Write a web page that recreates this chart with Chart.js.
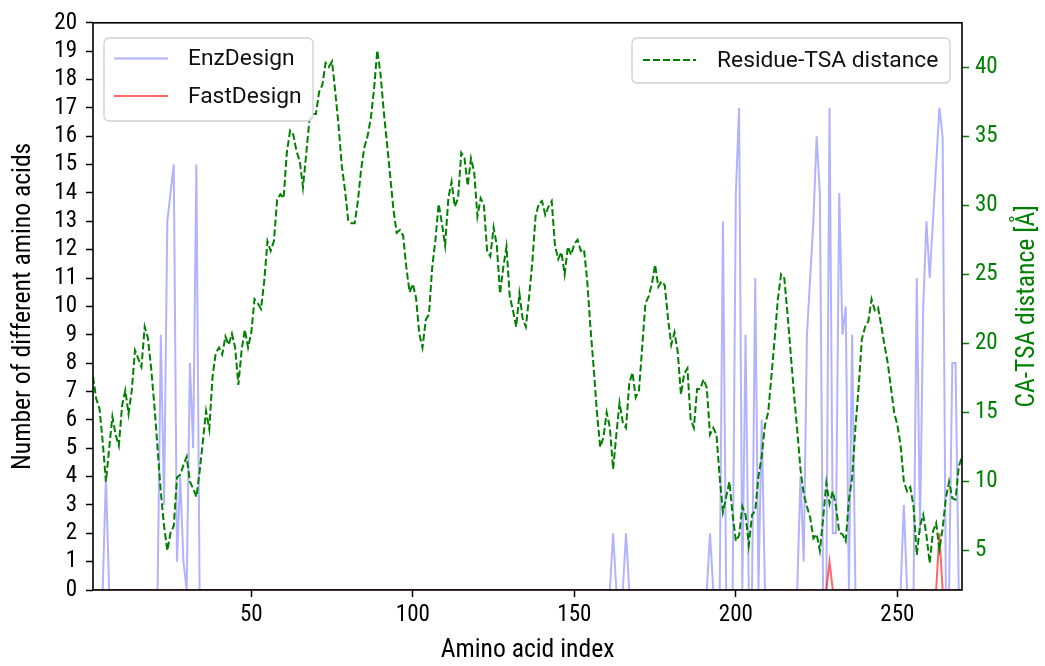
<!DOCTYPE html>
<html>
<head>
<meta charset="utf-8">
<script src="https://cdn.jsdelivr.net/npm/chart.js@4"></script>
<style>
  html, body { margin: 0; padding: 0; background: #fff; }
  #wrap { width: 1045px; height: 666px; }
</style>
</head>
<body>
<div id="wrap"><canvas id="chart1" width="1045" height="666"></canvas></div>
<script>
// residue numbers on the x axis
const residues = Array.from({ length: 270 }, (_, k) => k + 1)

// number of different amino acids per residue (EnzDesign)
const enzDesign = [
  0, 0, 0, 0, 4, 0, 0, 0, 0, 0,
  0, 0, 0, 0, 0, 0, 0, 0, 0, 0,
  0, 9, 3, 13, 14, 15, 1, 4, 1, 0,
  8, 5, 15, 0, 0, 0, 0, 0, 0, 0,
  0, 0, 0, 0, 0, 0, 0, 0, 0, 0,
  0, 0, 0, 0, 0, 0, 0, 0, 0, 0,
  0, 0, 0, 0, 0, 0, 0, 0, 0, 0,
  0, 0, 0, 0, 0, 0, 0, 0, 0, 0,
  0, 0, 0, 0, 0, 0, 0, 0, 0, 0,
  0, 0, 0, 0, 0, 0, 0, 0, 0, 0,
  0, 0, 0, 0, 0, 0, 0, 0, 0, 0,
  0, 0, 0, 0, 0, 0, 0, 0, 0, 0,
  0, 0, 0, 0, 0, 0, 0, 0, 0, 0,
  0, 0, 0, 0, 0, 0, 0, 0, 0, 0,
  0, 0, 0, 0, 0, 0, 0, 0, 0, 0,
  0, 0, 0, 0, 0, 0, 0, 0, 0, 0,
  0, 2, 0, 0, 0, 2, 0, 0, 0, 0,
  0, 0, 0, 0, 0, 0, 0, 0, 0, 0,
  0, 0, 0, 0, 0, 0, 0, 0, 0, 0,
  0, 2, 0, 0, 0, 13, 0, 0, 0, 14,
  17, 0, 9, 0, 0, 11, 0, 6, 0, 0,
  0, 0, 0, 0, 0, 0, 0, 0, 0, 4,
  1, 9, 11, 13, 16, 14, 0, 0, 17, 2,
  2, 14, 9, 10, 0, 9, 0, 0, 0, 0,
  0, 0, 0, 0, 0, 0, 0, 0, 0, 0,
  0, 3, 0, 0, 0, 11, 2, 10, 13, 11,
  13, 15, 17, 16, 0, 0, 8, 8, 0, 0
]

// number of different amino acids per residue (FastDesign)
const fastDesign = [
  0, 0, 0, 0, 0, 0, 0, 0, 0, 0,
  0, 0, 0, 0, 0, 0, 0, 0, 0, 0,
  0, 0, 0, 0, 0, 0, 0, 0, 0, 0,
  0, 0, 0, 0, 0, 0, 0, 0, 0, 0,
  0, 0, 0, 0, 0, 0, 0, 0, 0, 0,
  0, 0, 0, 0, 0, 0, 0, 0, 0, 0,
  0, 0, 0, 0, 0, 0, 0, 0, 0, 0,
  0, 0, 0, 0, 0, 0, 0, 0, 0, 0,
  0, 0, 0, 0, 0, 0, 0, 0, 0, 0,
  0, 0, 0, 0, 0, 0, 0, 0, 0, 0,
  0, 0, 0, 0, 0, 0, 0, 0, 0, 0,
  0, 0, 0, 0, 0, 0, 0, 0, 0, 0,
  0, 0, 0, 0, 0, 0, 0, 0, 0, 0,
  0, 0, 0, 0, 0, 0, 0, 0, 0, 0,
  0, 0, 0, 0, 0, 0, 0, 0, 0, 0,
  0, 0, 0, 0, 0, 0, 0, 0, 0, 0,
  0, 0, 0, 0, 0, 0, 0, 0, 0, 0,
  0, 0, 0, 0, 0, 0, 0, 0, 0, 0,
  0, 0, 0, 0, 0, 0, 0, 0, 0, 0,
  0, 0, 0, 0, 0, 0, 0, 0, 0, 0,
  0, 0, 0, 0, 0, 0, 0, 0, 0, 0,
  0, 0, 0, 0, 0, 0, 0, 0, 0, 0,
  0, 0, 0, 0, 0, 0, 0, 0, 1, 0,
  0, 0, 0, 0, 0, 0, 0, 0, 0, 0,
  0, 0, 0, 0, 0, 0, 0, 0, 0, 0,
  0, 0, 0, 0, 0, 0, 0, 0, 0, 0,
  0, 0, 2, 0, 0, 0, 0, 0, 0, 0
]

// CA - transition state analogue distance in Angstrom
const tsaDistance = [
  17.6, 16.0, 15.3, 12.9, 10.0, 12.4, 14.7, 13.4, 12.6, 15.5,
  16.6, 14.9, 16.6, 19.5, 18.9, 18.3, 21.2, 20.4, 18.2, 15.5,
  12.4, 9.2, 6.8, 5.0, 6.3, 6.8, 10.3, 10.5, 11.2, 11.8,
  10.0, 9.5, 8.9, 10.7, 12.9, 15.1, 13.8, 17.6, 19.3, 19.7,
  19.2, 20.5, 19.9, 20.7, 19.7, 17.0, 19.5, 21.0, 19.7, 20.8,
  23.2, 22.9, 22.5, 24.5, 27.4, 26.7, 27.4, 30.4, 30.8, 30.5,
  33.8, 35.4, 35.1, 33.9, 33.2, 31.3, 33.7, 36.2, 36.6, 36.6,
  38.2, 38.7, 40.3, 40.0, 40.4, 38.2, 35.8, 32.9, 31.1, 28.9,
  28.7, 28.7, 30.3, 32.6, 34.2, 35.0, 36.3, 38.4, 41.2, 39.5,
  36.8, 34.5, 32.1, 29.7, 28.0, 28.2, 27.8, 25.5, 23.7, 24.3,
  23.3, 20.7, 19.7, 21.7, 22.1, 25.5, 27.5, 30.1, 28.7, 27.1,
  30.5, 31.7, 29.9, 30.5, 33.8, 33.4, 31.4, 33.4, 32.4, 29.2,
  30.5, 30.0, 26.7, 26.3, 28.4, 27.1, 23.6, 25.5, 27.0, 23.4,
  22.4, 21.2, 23.6, 21.8, 21.2, 23.4, 25.9, 29.2, 30.1, 30.3,
  29.3, 29.9, 30.3, 27.1, 26.1, 26.6, 25.0, 27.0, 26.4, 27.2,
  27.5, 26.7, 26.8, 24.5, 21.1, 18.2, 15.0, 12.5, 13.2, 15.0,
  13.9, 10.9, 13.4, 15.7, 14.3, 13.9, 17.1, 17.9, 16.1, 16.6,
  19.7, 22.9, 23.4, 24.3, 25.7, 24.1, 24.5, 24.2, 21.8, 19.9,
  20.8, 19.4, 16.3, 17.8, 18.2, 14.5, 13.9, 16.7, 16.7, 17.4,
  16.8, 13.4, 13.9, 13.4, 10.3, 7.8, 8.9, 10.0, 7.6, 5.7,
  6.1, 8.2, 7.6, 5.4, 7.6, 7.9, 10.4, 11.8, 14.1, 15.0,
  17.6, 20.3, 23.2, 25.0, 24.7, 22.1, 19.2, 16.3, 13.7, 10.9,
  9.1, 8.2, 7.4, 5.9, 6.2, 5.0, 7.3, 9.9, 8.4, 9.3,
  8.2, 6.3, 6.2, 5.7, 8.7, 10.3, 13.9, 16.8, 20.3, 21.2,
  21.6, 23.2, 22.4, 22.6, 21.3, 19.9, 18.6, 16.8, 15.0, 14.1,
  12.6, 10.0, 9.3, 9.6, 8.2, 4.7, 6.8, 7.6, 6.1, 4.1,
  6.4, 7.0, 5.1, 6.6, 8.8, 10.0, 8.8, 8.7, 11.1, 11.8
]

const xTicks = [50, 100, 150, 200, 250]
const leftTicks = [0, 1, 2, 3, 4, 5, 6, 7, 8, 9, 10, 11, 12, 13, 14, 15, 16, 17, 18, 19, 20]
const rightTicks = [5, 10, 15, 20, 25, 30, 35, 40]

const GREEN = '#008000'

// use the narrow Roboto cut for axes if the system has it
var probe = document.createElement('canvas').getContext('2d')
function textWidth(font, text) {
  probe.font = font
  return probe.measureText(text).width
}
const hasCondensed = textWidth('100px "Roboto Condensed", monospace', 'Amino acid index') !==
  textWidth('100px monospace', 'Amino acid index')
const AXIS_FONT = hasCondensed ? '"Roboto Condensed", Roboto' : 'Roboto'
const LEGEND_FONT = 'Roboto'

// pick the font size that gives a text the width seen in the picture
function sizeFor(family, text, width) {
  return Math.round(10 * 100 * width / textWidth('100px ' + family, text)) / 10
}
const tickSize = sizeFor(AXIS_FONT, '200', 34)
const titleSize = sizeFor(AXIS_FONT, 'Amino acid index', 174)
const legendSize = sizeFor(LEGEND_FONT, 'Residue-TSA distance', 221)

function points(ys) {
  return residues.map((r, k) => ({ x: r, y: ys[k] }))
}
function fixedTicks(list) {
  return s => { s.ticks = list.map(v => ({ value: v })) }
}

// box, legends and right axis label drawn on top of the lines
const extras = {
  id: 'extras',
  afterDatasetsDraw(chart) {
    const ctx = chart.ctx
    const a = chart.chartArea
    ctx.save()
    ctx.strokeStyle = '#000'
    ctx.lineWidth = 1.6
    ctx.strokeRect(a.left, a.top, a.right - a.left, a.bottom - a.top)

    function box(x, y, w, h) {
      ctx.beginPath()
      ctx.roundRect(x, y, w, h, 5)
      ctx.fillStyle = 'rgba(255,255,255,0.8)'
      ctx.fill()
      ctx.strokeStyle = '#d0d0d0'
      ctx.lineWidth = 1.3
      ctx.stroke()
    }
    function entry(x1, x2, y, color, dash, width, label, tx) {
      ctx.beginPath()
      ctx.setLineDash(dash)
      ctx.strokeStyle = color
      ctx.lineWidth = width
      ctx.moveTo(x1, y)
      ctx.lineTo(x2, y)
      ctx.stroke()
      ctx.setLineDash([])
      ctx.fillStyle = '#111'
      ctx.font = legendSize + 'px ' + LEGEND_FONT
      ctx.textAlign = 'left'
      ctx.textBaseline = 'middle'
      ctx.fillText(label, tx, y + 1)
    }

    box(104, 38, 209, 83)
    entry(114, 168, 58.5, 'rgba(0,0,255,0.3)', [], 2, 'EnzDesign', 188)
    entry(114, 168, 96, 'rgba(255,0,0,0.6)', [], 2, 'FastDesign', 188)

    box(632, 38, 318, 45)
    entry(643, 696, 60, GREEN, [7, 3], 2, 'Residue-TSA distance', 717)

    // right axis title reads bottom to top
    ctx.translate(1028, (a.top + a.bottom) / 2)
    ctx.rotate(-Math.PI / 2)
    ctx.fillStyle = GREEN
    ctx.font = titleSize + 'px ' + AXIS_FONT
    ctx.textAlign = 'center'
    ctx.textBaseline = 'middle'
    ctx.fillText('CA-TSA distance [\u00c5]', 0, 0)
    ctx.restore()
  }
}

var tickGrid = {
  drawOnChartArea: false,
  drawTicks: true,
  tickLength: 7,
  tickWidth: 1.5,
  tickColor: '#000'
}

var ctx = document.getElementById('chart1').getContext('2d')
var chart1 = new Chart(ctx, {
  type: 'line',
  data: {
    datasets: [{
      label: 'Residue-TSA distance',
      data: points(tsaDistance),
      yAxisID: 'y2',
      borderColor: GREEN,
      borderWidth: 2,
      borderDash: [7, 3],
      pointRadius: 0,
      tension: 0,
      order: 0
    }, {
      label: 'FastDesign',
      data: points(fastDesign),
      yAxisID: 'y',
      borderColor: 'rgba(255,0,0,0.6)',
      borderWidth: 2,
      pointRadius: 0,
      tension: 0,
      order: 1
    }, {
      label: 'EnzDesign',
      data: points(enzDesign),
      yAxisID: 'y',
      borderColor: 'rgba(0,0,255,0.3)',
      borderWidth: 2,
      pointRadius: 0,
      tension: 0,
      order: 2
    }]
  },
  options: {
    responsive: false,
    animation: false,
    devicePixelRatio: 1,
    layout: { padding: { top: 22, left: 0, right: 0, bottom: 0 } },
    plugins: {
      legend: { display: false },
      tooltip: { enabled: false }
    },
    scales: {
      x: {
        type: 'linear',
        min: 1,
        max: 270,
        afterBuildTicks: fixedTicks(xTicks),
        afterFit: s => { s.height = 76 },
        grid: tickGrid,
        border: { display: false },
        ticks: { color: '#000', font: { family: AXIS_FONT, size: tickSize }, padding: 4, maxRotation: 0, autoSkip: false },
        title: {
          display: true,
          text: 'Amino acid index',
          color: '#000',
          font: { family: AXIS_FONT, size: titleSize },
          padding: { top: 0, bottom: 0 }
        }
      },
      y: {
        position: 'left',
        min: 0,
        max: 20,
        afterBuildTicks: fixedTicks(leftTicks),
        afterFit: s => { s.width = 93 },
        grid: tickGrid,
        border: { display: false },
        ticks: { color: '#000', font: { family: AXIS_FONT, size: tickSize }, padding: 9, autoSkip: false },
        title: {
          display: true,
          text: 'Number of different amino acids',
          color: '#000',
          font: { family: AXIS_FONT, size: titleSize },
          padding: { top: 8, bottom: 0 }
        }
      },
      y2: {
        position: 'right',
        min: 2.16,
        max: 43.2,
        afterBuildTicks: fixedTicks(rightTicks),
        afterFit: s => { s.width = 83 },
        grid: Object.assign({}, tickGrid, { tickColor: GREEN }),
        border: { display: false },
        ticks: { color: GREEN, font: { family: AXIS_FONT, size: tickSize }, padding: 6, autoSkip: false }
      }
    }
  },
  plugins: [extras]
})
</script>
</body>
</html>
